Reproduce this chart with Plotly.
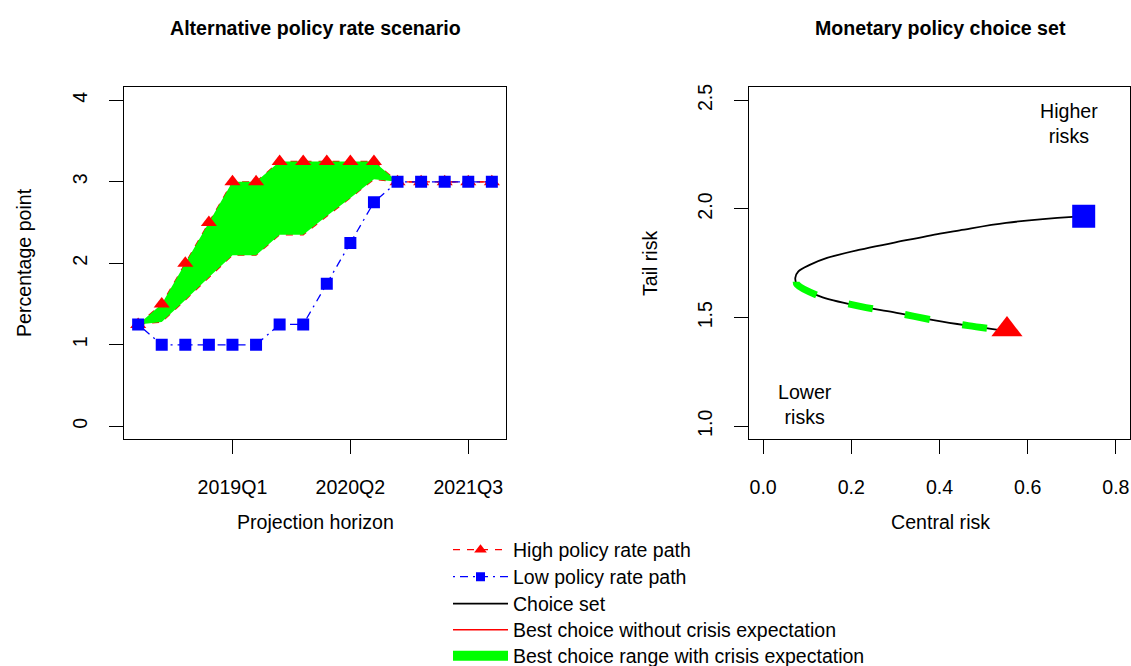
import plotly.graph_objects as go

# ---------------- data ----------------
quarters = list(range(1, 17))
quarter_tickvals = [5, 10, 15]
quarter_ticktext = ["2019Q1", "2020Q2", "2021Q3"]

high_path = [1.25, 1.5, 2.0, 2.5, 3.0, 3.0, 3.25, 3.25, 3.25, 3.25, 3.25, 3.0, 3.0, 3.0, 3.0, 3.0]
low_path = [1.25, 1.0, 1.0, 1.0, 1.0, 1.0, 1.25, 1.25, 1.75, 2.25, 2.75, 3.0, 3.0, 3.0, 3.0, 3.0]
range_lower = [1.25, 1.28, 1.55, 1.83, 2.10, 2.10, 2.35, 2.35, 2.58, 2.80, 3.03, 3.0, 3.0, 3.0, 3.0, 3.0]

choice_x = [0.727, 0.702, 0.551, 0.446, 0.401, 0.295, 0.220, 0.145, 0.107, 0.080, 0.073,
            0.077, 0.129, 0.220, 0.295, 0.393, 0.465, 0.529, 0.553]
choice_y = [1.966, 1.964, 1.936, 1.902, 1.887, 1.844, 1.813, 1.775, 1.744, 1.713, 1.683,
            1.652, 1.598, 1.552, 1.525, 1.486, 1.463, 1.445, 1.440]
green_x = [0.075, 0.077, 0.129, 0.220, 0.295, 0.393, 0.465, 0.529]
green_y = [1.665, 1.652, 1.598, 1.552, 1.525, 1.486, 1.463, 1.445]
low_point = ([0.727], [1.966])
high_point = ([0.553], [1.445])

legend_names = ["High policy rate path", "Low policy rate path", "Choice set",
                "Best choice without crisis expectation",
                "Best choice range with crisis expectation"]

W, H = 1131, 666
FONT = "Liberation Sans, Arial, Helvetica, sans-serif"
FS = 19.6
LFS = 19.5

RED = "#FF0000"
BLUE = "#0000FF"
GREEN = "#00FF00"
RED_DASH = "7px,7px"
BLUE_DASH = "2px,5px,8px,5px"

fig = go.Figure()

# ---- left panel ----
fig.add_trace(go.Scatter(x=quarters, y=range_lower, mode="lines",
                         line=dict(color=RED, width=1.3, dash=RED_DASH),
                         showlegend=False, xaxis="x", yaxis="y"))
fig.add_trace(go.Scatter(x=quarters, y=high_path, mode="lines",
                         line=dict(color=RED, width=1.3, dash=RED_DASH),
                         showlegend=False, xaxis="x", yaxis="y"))
fig.add_trace(go.Scatter(x=quarters, y=low_path, mode="lines",
                         line=dict(color=BLUE, width=1.3, dash=BLUE_DASH),
                         showlegend=False, xaxis="x", yaxis="y"))
fig.add_trace(go.Scatter(x=quarters + quarters[::-1], y=high_path + range_lower[::-1],
                         mode="none", fill="toself", fillcolor=GREEN,
                         showlegend=False, xaxis="x", yaxis="y"))
fig.add_trace(go.Scatter(x=quarters, y=high_path, mode="markers",
                         marker=dict(symbol="triangle-up", size=14, color=RED),
                         showlegend=False, xaxis="x", yaxis="y"))
fig.add_trace(go.Scatter(x=quarters, y=low_path, mode="markers",
                         marker=dict(symbol="square", size=12, color=BLUE),
                         showlegend=False, xaxis="x", yaxis="y"))

# ---- right panel ----
fig.add_trace(go.Scatter(x=choice_x, y=choice_y, mode="lines",
                         line=dict(color="black", width=1.8, shape="spline", smoothing=1.0),
                         name=legend_names[2], legend="legend3", xaxis="x2", yaxis="y2"))
fig.add_trace(go.Scatter(x=green_x, y=green_y, mode="lines",
                         line=dict(color=GREEN, width=7, shape="spline", smoothing=1.0,
                                   dash="25px,33px"),
                         showlegend=False, xaxis="x2", yaxis="y2"))
fig.add_trace(go.Scatter(x=low_point[0], y=low_point[1], mode="markers",
                         marker=dict(symbol="square", size=23, color=BLUE),
                         showlegend=False, xaxis="x2", yaxis="y2"))
fig.add_trace(go.Scatter(x=high_point[0], y=high_point[1], mode="markers",
                         marker=dict(symbol="triangle-up", size=27, color=RED),
                         showlegend=False, xaxis="x2", yaxis="y2"))

# ---- legend entries ----
fig.add_trace(go.Scatter(x=[None], y=[None], mode="lines+markers", name=legend_names[0],
                         line=dict(color=RED, width=1.3, dash=RED_DASH),
                         marker=dict(symbol="triangle-up", size=11, color=RED),
                         legend="legend", xaxis="x", yaxis="y"))
fig.add_trace(go.Scatter(x=[None], y=[None], mode="lines+markers", name=legend_names[1],
                         line=dict(color=BLUE, width=1.3, dash=BLUE_DASH),
                         marker=dict(symbol="square", size=9, color=BLUE),
                         legend="legend2", xaxis="x", yaxis="y"))
fig.add_trace(go.Scatter(x=[None], y=[None], mode="lines", name=legend_names[3],
                         line=dict(color=RED, width=1.5),
                         legend="legend4", xaxis="x", yaxis="y"))
fig.add_trace(go.Scatter(x=[None], y=[None], mode="lines", name=legend_names[4],
                         line=dict(color=GREEN, width=14),
                         legend="legend5", xaxis="x", yaxis="y"))

axis_common = dict(showline=True, linecolor="black", linewidth=1.3, mirror=True,
                   ticks="outside", ticklen=14, tickwidth=1.3, tickcolor="black",
                   showgrid=False, zeroline=False,
                   tickfont=dict(family=FONT, size=FS, color="black"))

row_y = [550, 577, 604, 630, 656]
legends = {}
for i, ry in enumerate(row_y):
    key = "legend" if i == 0 else f"legend{i + 1}"
    legends[key] = dict(x=448 / W, y=1 - ry / H, xanchor="left", yanchor="middle",
                        bgcolor="rgba(0,0,0,0)", itemwidth=55,
                        font=dict(family=FONT, size=LFS, color="black"))

fig.update_layout(
    width=W, height=H,
    margin=dict(l=0, r=0, t=0, b=0, autoexpand=False),
    paper_bgcolor="white", plot_bgcolor="white",
    font=dict(family=FONT, size=FS, color="black"),
    xaxis=dict(domain=[124 / W, 506 / W], range=[0.4, 16.6], anchor="y",
               tickvals=quarter_tickvals, ticktext=quarter_ticktext,
               ticklabelstandoff=16, **axis_common),
    yaxis=dict(domain=[1 - 439.3 / H, 1 - 87.3 / H], range=[-0.16, 4.16], anchor="x",
               tickvals=[0, 1, 2, 3, 4], tickangle=-90,
               ticklabelstandoff=14, **axis_common),
    xaxis2=dict(domain=[749 / W, 1130 / W], range=[-0.032, 0.832], anchor="y2",
                tickvals=[0.0, 0.2, 0.4, 0.6, 0.8], tickformat=".1f",
                ticklabelstandoff=16, **axis_common),
    yaxis2=dict(domain=[1 - 439.3 / H, 1 - 87.3 / H], range=[0.94, 2.56], anchor="x2",
                tickvals=[1.0, 1.5, 2.0, 2.5], tickformat=".1f", tickangle=-90,
                ticklabelstandoff=14, **axis_common),
    showlegend=True,
    **legends,
)

ann = [
    dict(text="<b>Alternative policy rate scenario</b>", x=315 / W, y=1 - 28 / H),
    dict(text="<b>Monetary policy choice set</b>", x=940 / W, y=1 - 28 / H),
    dict(text="Projection horizon", x=315 / W, y=1 - 522 / H),
    dict(text="Central risk", x=940 / W, y=1 - 522 / H),
    dict(text="Percentage point", x=24 / W, y=1 - 263 / H, textangle=-90),
    dict(text="Tail risk", x=650 / W, y=1 - 263 / H, textangle=-90),
]
for a in ann:
    fig.add_annotation(xref="paper", yref="paper", showarrow=False,
                       xanchor="center", yanchor="middle",
                       font=dict(family=FONT, size=FS, color="black"), **a)

fig.add_annotation(xref="x2", yref="y2", x=0.694, y=2.395, text="Higher<br>risks",
                   showarrow=False, align="center",
                   font=dict(family=FONT, size=FS, color="black"))
fig.add_annotation(xref="x2", yref="y2", x=0.095, y=1.10, text="Lower<br>risks",
                   showarrow=False, align="center",
                   font=dict(family=FONT, size=FS, color="black"))

fig.write_html("out.html", config={"displayModeBar": False},
               post_script="document.body.style.margin='0px';")
